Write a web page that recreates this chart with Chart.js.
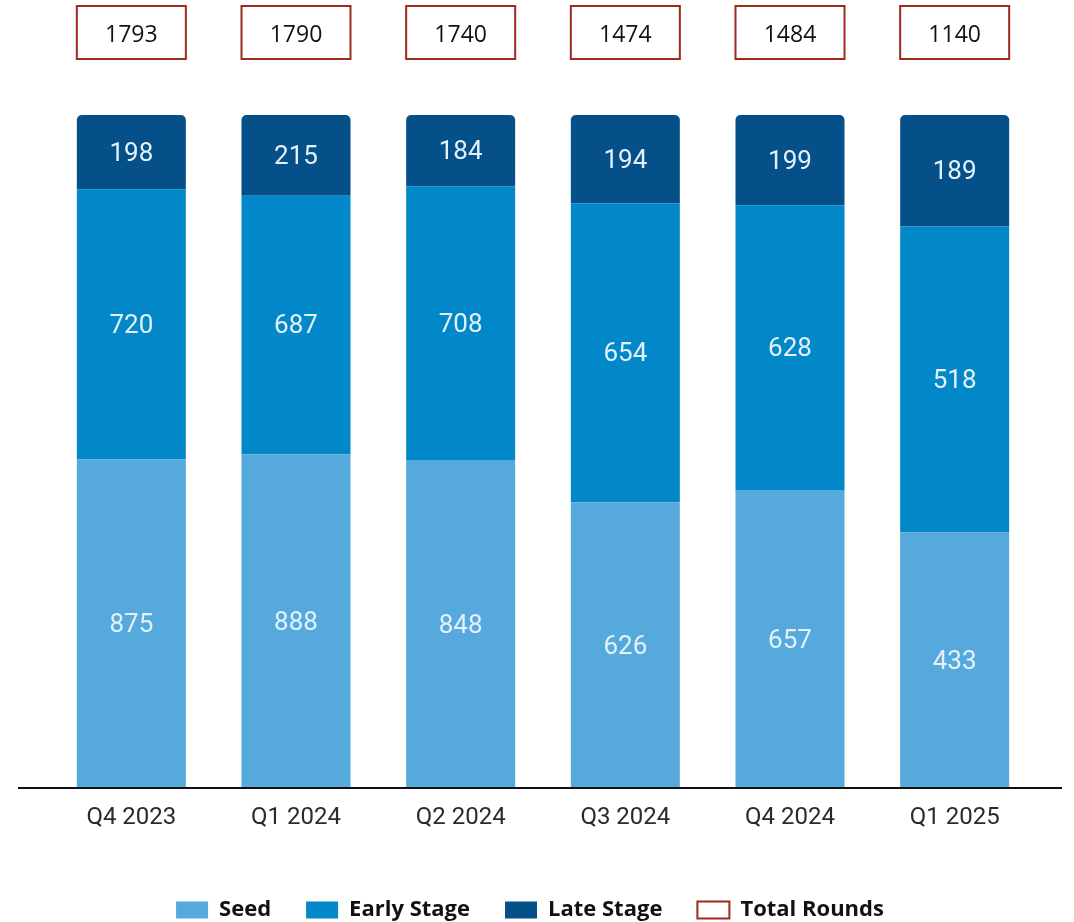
<!DOCTYPE html>
<html>
<head>
<meta charset="utf-8">
<script src="https://cdn.jsdelivr.net/npm/chart.js@4.4.1/dist/chart.umd.min.js"></script>
<style>
    html, body { margin: 0; padding: 0; background: #fff; }
    #wrap { width: 1074px; height: 922px; position: relative; }
</style>
</head>
<body>
<div id="wrap"><canvas id="rounds-chart"></canvas></div>
<script>
const quarters = ['Q4 2023', 'Q1 2024', 'Q2 2024', 'Q3 2024', 'Q4 2024', 'Q1 2025'];
const seedRounds = [875, 888, 848, 626, 657, 433];
const earlyRounds = [720, 687, 708, 654, 628, 518];
const lateRounds = [198, 215, 184, 194, 199, 189];
const totalRounds = [1793, 1790, 1740, 1474, 1484, 1140];

const colors = {
    seed: '#56a9dc',
    early: '#0288c8',
    late: '#06508a',
    total: '#9c2b1c'
};

// 100% stacked: each segment is its share of the quarter's total
function share(values) {
    return values.map((v, i) => v / (seedRounds[i] + earlyRounds[i] + lateRounds[i]) * 100);
}

// writes the raw counts in the middle of each segment
const segmentLabels = {
    id: 'segmentLabels',
    afterDatasetsDraw(chart) {
        const ctx = chart.ctx;
        ctx.save();
        ctx.fillStyle = '#e4f1fa';
        ctx.font = '26px Roboto';
        ctx.textAlign = 'center';
        ctx.textBaseline = 'middle';
        chart.data.datasets.forEach((ds, di) => {
            if (!ds.counts) return;
            chart.getDatasetMeta(di).data.forEach((bar, i) => {
                ctx.fillText(ds.counts[i], bar.x, (bar.y + bar.base) / 2 + 2);
            });
        });
        ctx.restore();
    }
};

// total boxes above the bars + the long baseline
const totalBoxes = {
    id: 'totalBoxes',
    afterLayout(chart) {
        // nudge the legend a bit left and down, like the original
        const lg = chart.legend;
        lg.left -= 13; lg.right -= 13;
        lg.top += 9; lg.bottom += 9;
    },
    afterDraw(chart) {
        const ctx = chart.ctx;
        const area = chart.chartArea;
        const bars = chart.getDatasetMeta(0).data;
        ctx.save();
        bars.forEach((bar, i) => {
            const left = bar.x - bar.width / 2;
            const top = area.top - 109;
            ctx.fillStyle = '#fff';
            ctx.strokeStyle = colors.total;
            ctx.lineWidth = 2;
            ctx.fillRect(left, top, bar.width, 53);
            ctx.strokeRect(left, top, bar.width, 53);
            ctx.fillStyle = '#111';
            ctx.font = '23px "Open Sans"';
            ctx.textAlign = 'center';
            ctx.textBaseline = 'middle';
            ctx.fillText(totalRounds[i], bar.x, top + 29);
        });
        ctx.strokeStyle = '#111';
        ctx.lineWidth = 2;
        ctx.beginPath();
        ctx.moveTo(18, area.bottom);
        ctx.lineTo(1062, area.bottom);
        ctx.stroke();
        ctx.restore();
    }
};

new Chart(document.getElementById('rounds-chart').getContext('2d'), {
    type: 'bar',
    data: {
        labels: quarters,
        datasets: [
            {
                label: 'Seed',
                data: share(seedRounds),
                counts: seedRounds,
                backgroundColor: colors.seed
            },
            {
                label: 'Early Stage',
                data: share(earlyRounds),
                counts: earlyRounds,
                backgroundColor: colors.early
            },
            {
                label: 'Late Stage',
                data: share(lateRounds),
                counts: lateRounds,
                backgroundColor: colors.late,
                borderRadius: { topLeft: 5, topRight: 5, bottomLeft: 0, bottomRight: 0 },
                borderSkipped: false
            },
            {
                label: 'Total Rounds',
                data: quarters.map(() => null),
                backgroundColor: '#fff',
                borderColor: colors.total,
                borderWidth: 2
            }
        ]
    },
    options: {
        responsive: true,
        maintainAspectRatio: false,
        animation: false,
        datasets: {
            bar: {
                categoryPercentage: 1,
                barPercentage: 0.662
            }
        },
        layout: {
            padding: { top: 115, left: 49, right: 37, bottom: 0 }
        },
        plugins: {
            tooltip: { enabled: false },
            legend: {
                position: 'bottom',
                labels: {
                    boxWidth: 32,
                    boxHeight: 17,
                    padding: 35,
                    color: '#111',
                    font: { family: '"Open Sans"', size: 22, weight: 'bold' }
                }
            }
        },
        scales: {
            x: {
                stacked: true,
                grid: { display: false, drawTicks: false },
                border: { display: false },
                ticks: {
                    padding: 16,
                    color: '#2b2b2b',
                    font: { family: 'Roboto', size: 24 }
                },
                afterFit(scale) {
                    scale.height = 67;
                }
            },
            y: {
                stacked: true,
                display: false,
                min: 0,
                max: 100
            }
        }
    },
    plugins: [segmentLabels, totalBoxes]
});
</script>
</body>
</html>
